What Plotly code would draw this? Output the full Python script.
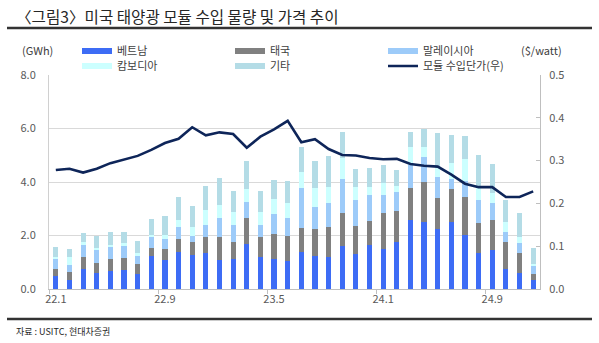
import plotly.graph_objects as go

months = ["22.1", "22.2", "22.3", "22.4", "22.5", "22.6", "22.7", "22.8", "22.9", "22.10", "22.11", "22.12",
          "23.1", "23.2", "23.3", "23.4", "23.5", "23.6", "23.7", "23.8", "23.9", "23.10", "23.11", "23.12",
          "24.1", "24.2", "24.3", "24.4", "24.5", "24.6", "24.7", "24.8", "24.9", "24.10", "24.11", "24.12"]
tick_labels = ["22.1", "22.9", "23.5", "24.1", "24.9"]

vietnam = [0.47, 0.35, 0.75, 0.60, 0.68, 0.72, 0.57, 1.23, 1.09, 1.37, 1.28, 1.34,
           1.08, 1.12, 1.69, 1.19, 1.11, 1.04, 1.38, 1.22, 1.19, 1.59, 1.31, 1.65,
           1.49, 1.75, 2.57, 2.51, 2.26, 2.49, 2.03, 1.34, 1.47, 0.76, 0.58, 0.35]
thailand = [0.28, 0.30, 0.44, 0.37, 0.44, 0.45, 0.36, 0.32, 0.39, 0.50, 0.46, 0.59,
            0.85, 0.62, 0.96, 0.76, 0.95, 0.94, 0.90, 1.02, 1.12, 1.25, 1.05, 0.90,
            1.37, 1.17, 1.19, 1.48, 1.15, 1.25, 1.40, 1.12, 1.12, 0.99, 0.76, 0.21]
malaysia = [0.39, 0.26, 0.49, 0.47, 0.45, 0.42, 0.29, 0.38, 0.39, 0.43, 0.23, 0.47,
            0.72, 0.65, 0.60, 0.44, 0.73, 0.68, 1.49, 0.82, 0.90, 1.29, 0.97, 0.97,
            0.65, 0.69, 0.88, 0.96, 0.76, 0.39, 0.59, 0.87, 0.62, 0.38, 0.38, 0.29]
cambodia = [0.04, 0.28, 0.06, 0.09, 0.08, 0.13, 0.12, 0.08, 0.16, 0.27, 0.33, 0.54,
            0.50, 0.50, 0.49, 0.50, 0.57, 0.55, 0.60, 0.72, 0.62, 0.76, 0.50, 0.31,
            0.45, 0.25, 0.66, 0.37, 0.41, 0.57, 0.83, 0.44, 0.37, 0.39, 0.21, 0.08]
others = [0.39, 0.30, 0.37, 0.46, 0.48, 0.42, 0.45, 0.61, 0.71, 0.87, 0.81, 0.92,
          0.99, 0.79, 1.06, 0.77, 0.72, 0.81, 0.95, 1.00, 1.15, 0.97, 0.67, 0.70,
          0.69, 0.59, 0.56, 0.66, 1.24, 1.06, 0.87, 1.24, 1.08, 0.79, 0.91, 0.62]
price = [0.278, 0.281, 0.272, 0.281, 0.294, 0.302, 0.311, 0.325, 0.341, 0.351, 0.378, 0.359,
         0.366, 0.362, 0.330, 0.356, 0.373, 0.393, 0.343, 0.350, 0.327, 0.313, 0.312, 0.306,
         0.303, 0.304, 0.292, 0.288, 0.286, 0.267, 0.246, 0.238, 0.238, 0.215, 0.215, 0.228]

series = [
    ("베트남", vietnam, "#3D6CF5", "legend"),
    ("태국", thailand, "#808080", "legend"),
    ("말레이시아", malaysia, "#9DCBF9", "legend"),
    ("캄보디아", cambodia, "#CCFFFF", "legend2"),
    ("기타", others, "#B4DCE6", "legend2"),
]

x = list(range(len(months)))
tick_pos = [months.index(t) for t in tick_labels]

FONT = "Noto Sans CJK KR"
fig = go.Figure()
for name, vals, color, lg in series:
    fig.add_trace(go.Bar(x=x, y=vals, name=name, marker=dict(color=color, line=dict(width=0)),
                         showlegend=False))
for name, vals, color, lg in series:
    fig.add_trace(go.Scatter(x=[None], y=[None], mode="lines", name=name,
                             line=dict(color=color, width=6), legend=lg))
fig.add_trace(go.Scatter(x=x, y=price, mode="lines", name="모듈 수입단가(우)", yaxis="y2",
                         line=dict(color="#0E2559", width=2.6), legend="legend2"))

axis_font = dict(family=FONT, size=11, color="#595959")
legend_common = dict(orientation="h", xref="container", yref="container", xanchor="left",
                     yanchor="middle", entrywidth=108, entrywidthmode="pixels",
                     font=dict(family=FONT, size=11, color="#404040"), traceorder="normal",
                     bgcolor="rgba(0,0,0,0)", itemwidth=30, tracegroupgap=0)

fig.update_layout(
    width=599, height=343,
    margin=dict(l=49, r=59, t=75, b=54, autoexpand=False),
    paper_bgcolor="white", plot_bgcolor="white",
    barmode="stack", bargap=0.62,
    font=dict(family=FONT, color="#404040"),
    xaxis=dict(range=[-0.5, len(months) - 0.5], tickvals=tick_pos, ticktext=tick_labels,
               showgrid=False, showline=True, linecolor="#BFBFBF", linewidth=1,
               ticks="", tickfont=axis_font, zeroline=False,
               minor=dict(tick0=-0.5, dtick=8, ticks="outside", ticklen=4, tickcolor="#BFBFBF")),
    yaxis=dict(range=[0, 8], dtick=2, tickformat=".1f", showgrid=True, gridcolor="#D9D9D9",
               showline=True, linecolor="#D0D0D0", zeroline=False, tickfont=axis_font,
               ticklabelstandoff=10),
    yaxis2=dict(range=[0, 0.5], dtick=0.1, tickformat=".1f", overlaying="y", side="right",
                showgrid=False, showline=True, linecolor="#BFBFBF", ticks="inside", ticklen=4,
                tickcolor="#BFBFBF", zeroline=False, tickfont=axis_font, ticklabelstandoff=6),
    legend=dict(x=77 / 599, y=1 - 51 / 343, **legend_common),
    legend2=dict(x=77 / 599, y=1 - 66 / 343, **legend_common),
    showlegend=True,
)

fig.add_annotation(text="〈그림3〉미국 태양광 모듈 수입 물량 및 가격 추이", xref="paper", yref="paper",
                   x=-49 / 491 + 14 / 491, y=1 + (75 - 16) / 214, xanchor="left", yanchor="middle",
                   showarrow=False, font=dict(family=FONT, size=15.6, color="#262626"))
fig.add_annotation(text="(GWh)", xref="paper", yref="paper", x=(20 - 49) / 491,
                   y=1 + (75 - 50) / 214, xanchor="left", yanchor="middle", showarrow=False,
                   font=dict(family=FONT, size=11, color="#404040"))
fig.add_annotation(text="($/watt)", xref="paper", yref="paper", x=(519 - 49) / 491,
                   y=1 + (75 - 50) / 214, xanchor="left", yanchor="middle", showarrow=False,
                   font=dict(family=FONT, size=11, color="#404040"))
fig.add_annotation(text="자료 : USITC, 현대차증권", xref="paper", yref="paper", x=(14 - 49) / 491,
                   y=-(331 - 289) / 214, xanchor="left", yanchor="middle", showarrow=False,
                   font=dict(family=FONT, size=9, color="#262626"))
fig.add_shape(type="line", xref="paper", yref="paper", x0=(7 - 49) / 491, x1=(592 - 49) / 491,
              y0=1 + (75 - 28) / 214, y1=1 + (75 - 28) / 214, line=dict(color="#333333", width=2.5))
fig.add_shape(type="line", xref="paper", yref="paper", x0=(7 - 49) / 491, x1=(592 - 49) / 491,
              y0=-(319 - 289) / 214, y1=-(319 - 289) / 214, line=dict(color="#333333", width=2.5))

fig.write_html("out.html")
